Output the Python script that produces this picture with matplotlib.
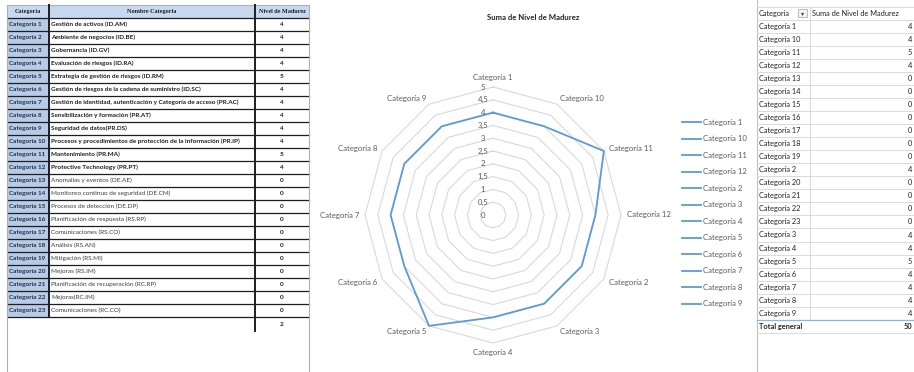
import numpy as np
import matplotlib.pyplot as plt
from matplotlib.lines import Line2D
from matplotlib.patches import Rectangle

plt.rcParams['font.family'] = ['Lato', 'DejaVu Sans']

# datos de la hoja
categorias = ['Categoría %d' % i for i in range(1, 24)]
nombres = [
    'Gestión de activos (ID.AM)',
    'Ambiente de negocios (ID.BE)',
    'Gobernancia (ID.GV)',
    'Evaluación de riesgos (ID.RA)',
    'Estrategia de gestión de riesgos (ID.RM)',
    'Gestión de riesgos de la cadena de suministro (ID.SC)',
    'Gestión de identidad, autenticación y Categoría de acceso (PR.AC)',
    'Sensibilización y formación (PR.AT)',
    'Seguridad de datos(PR.DS)',
    'Procesos y procedimientos de protección de la información (PR.IP)',
    'Mantenimiento (PR.MA)',
    'Protective Technology (PR.PT)',
    'Anomalías y eventos (DE.AE)',
    'Monitoreo continuo de seguridad (DE.CM)',
    'Procesos de detección (DE.DP)',
    'Planificación de respuesta (RS.RP)',
    'Comunicaciones (RS.CO)',
    'Análisis (RS.AN)',
    'Mitigación (RS.MI)',
    'Mejoras (RS.IM)',
    'Planificación de recuperación (RC.RP)',
    'Mejoras(RC.IM)',
    'Comunicaciones (RC.CO)',
]
niveles = [4, 4, 4, 4, 5, 4, 4, 4, 4, 4, 5, 4, 0, 0, 0, 0, 0, 0, 0, 0, 0, 0, 0]
celda_extra = '2'
escala = ['0', '0,5', '1', '1,5', '2', '2,5', '3', '3,5', '4', '4,5', '5']
pasos_escala = [0, 0.5, 1, 1.5, 2, 2.5, 3, 3.5, 4, 4.5, 5]

nivel_por_cat = dict(zip(categorias, niveles))
# tabla dinamica: orden alfabetico de texto
pivot_cats = sorted(categorias)
pivot_vals = [nivel_por_cat[c] for c in pivot_cats]
total = sum(pivot_vals)
# grafico radial: solo las 12 primeras categorias
radar_cats = sorted(categorias[:12])
radar_vals = [nivel_por_cat[c] for c in radar_cats]

W, H = 914, 372
fig = plt.figure(figsize=(W / 100, H / 100), dpi=100)
bg = fig.add_axes([0, 0, 1, 1])
bg.set_xlim(0, W)
bg.set_ylim(H, 0)
bg.axis('off')

# ---- tabla izquierda ----
x0, x1, x2, x3 = 7, 49, 255, 309
top, rh = 5, 13
oscuro = '#1e1e1e'
azul_cab = '#c6d9f0'
azul_col = '#b7cbe6'
fs = 4.6

bg.add_patch(Rectangle((x0, top), x3 - x0, rh, fc=azul_cab, ec='none'))
bg.add_patch(Rectangle((x0, top + rh), x1 - x0, rh * len(categorias), fc=azul_col, ec='none'))
for txt, xc in [('Categoria', (x0 + x1) / 2), ('Nombre Categoria', (x1 + x2) / 2),
                ('Nivel de Madurez', (x2 + x3) / 2)]:
    bg.text(xc, top + rh / 2, txt, ha='center', va='center', fontsize=4.4,
            fontweight='bold', family='Liberation Serif', color=oscuro)

for i, (cat, nom, niv) in enumerate(zip(categorias, nombres, niveles)):
    yc = top + rh * (i + 1.5)
    negrita = niv > 0
    bg.text(x0 + 2, yc, cat, ha='left', va='center', fontsize=fs,
            fontweight='bold', color='#22324a')
    bg.text(x1 + 2, yc, nom, ha='left', va='center', fontsize=fs,
            fontweight='bold' if negrita else 'normal',
            color=oscuro if negrita else '#3c3c3c')
    bg.text((x2 + x3) / 2, yc, str(niv), ha='center', va='center', fontsize=fs,
            fontweight='bold', color=oscuro)

n_filas = len(categorias) + 1
for k in range(1, n_filas + 1):
    y = top + rh * k
    bg.plot([x0, x3], [y, y], color=oscuro, lw=0.9)
bg.plot([x0, x3], [top, top], color='#9aa7b8', lw=0.6)
y_fin = top + rh * n_filas
bg.plot([x1, x1], [top, y_fin], color=oscuro, lw=1.4)
bg.plot([x2, x2], [top, y_fin + 14], color=oscuro, lw=1.4)
bg.plot([x0, x0], [top, H], color='#b0b0b0', lw=0.8)
bg.plot([x3, x3], [top, H], color='#b0b0b0', lw=0.8)
bg.text((x2 + x3) / 2, y_fin + 8, celda_extra, ha='center', va='center',
        fontsize=fs, fontweight='bold', color=oscuro)

# ---- grafico radial ----
cx, cy, R = 493, 215, 128
ax = fig.add_axes([(cx - R) / W, (H - cy - R) / H, 2 * R / W, 2 * R / H], projection='polar')
ax.set_theta_zero_location('N')
ax.set_theta_direction(-1)
ax.set_ylim(0, 5)
ax.set_axis_off()

ang = np.linspace(0, 2 * np.pi, len(radar_cats), endpoint=False)
ang_c = np.append(ang, ang[0])
for r in pasos_escala[1:]:
    ax.plot(ang_c, [r] * len(ang_c), color='#d9d9d9', lw=0.8, clip_on=False)
ax.plot(ang_c, radar_vals + radar_vals[:1], color='#5b9bd5', lw=1.3, clip_on=False)

for r, lbl in zip(pasos_escala, escala):
    ax.annotate(lbl, xy=(0, r), xytext=(-10, 0), textcoords='offset pixels',
                ha='center', va='center', fontsize=5.6, color='#595959')

for a, nom in zip(ang, radar_cats):
    s, c = np.sin(a), np.cos(a)
    ha = 'left' if s > 0.1 else ('right' if s < -0.1 else 'center')
    va = 'bottom' if c > 0.99 else ('top' if c < -0.99 else 'center')
    ax.annotate(nom, xy=(a, 5), xytext=(6 * s, 6 * c), textcoords='offset pixels',
                ha=ha, va=va, fontsize=5.6, color='#595959', annotation_clip=False)

fig.text(533 / W, 1 - 18 / H, 'Suma de Nivel de Madurez', ha='center', va='center',
         fontsize=5.6, fontweight='bold', color='#262626')

handles = [Line2D([], [], color='#5b9bd5', lw=1.3) for _ in radar_cats]
fig.legend(handles, radar_cats, loc='upper left', bbox_to_anchor=(682 / W, 1 - 119 / H),
           frameon=False, fontsize=5.6, handlelength=2.4, handletextpad=0.25,
           labelspacing=1.22, borderpad=0, borderaxespad=0, labelcolor='#595959')

# ---- tabla dinamica derecha ----
rx0, rx1, rx2 = 757, 810, 914
rtop, rrh = 6.8, 13.04
rfs = 5.3
gris = '#d4d4d4'
bg.plot([rx0, rx0], [0, H], color='#bfbfbf', lw=0.8)
n_r = len(pivot_cats) + 2
for k in range(n_r + 1):
    y = rtop + rrh * k
    bg.plot([rx0, rx2], [y, y], color=gris, lw=0.6)
bg.plot([rx1, rx1], [rtop, rtop + rrh * (n_r - 1)], color=gris, lw=0.6)
y_tot = rtop + rrh * (n_r - 1)
bg.plot([rx0, rx2], [y_tot, y_tot], color='#8eb4e3', lw=0.9)

bg.text(rx0 + 2, rtop + rrh / 2, 'Categoría', ha='left', va='center', fontsize=rfs, color='#222222')
bg.add_patch(Rectangle((798, rtop + 2.5), 9, 8, fc='#f2f2f2', ec='#a6a6a6', lw=0.5))
bg.text(802.5, rtop + rrh / 2, '▾', ha='center', va='center', fontsize=4.5,
        family='DejaVu Sans', color='#404040')
bg.text(rx1 + 2, rtop + rrh / 2, 'Suma de Nivel de Madurez', ha='left', va='center',
        fontsize=rfs, color='#222222')
for i, (c, v) in enumerate(zip(pivot_cats, pivot_vals)):
    yc = rtop + rrh * (i + 1.5)
    bg.text(rx0 + 2, yc, c, ha='left', va='center', fontsize=rfs, color='#222222')
    bg.text(912, yc, str(v), ha='right', va='center', fontsize=rfs, color='#222222')
yc = y_tot + rrh / 2
bg.text(rx0 + 2, yc, 'Total general', ha='left', va='center', fontsize=rfs,
        fontweight='bold', color='#222222')
bg.text(912, yc, str(total), ha='right', va='center', fontsize=rfs,
        fontweight='bold', color='#222222')

fig.savefig('out.png', dpi=100)
